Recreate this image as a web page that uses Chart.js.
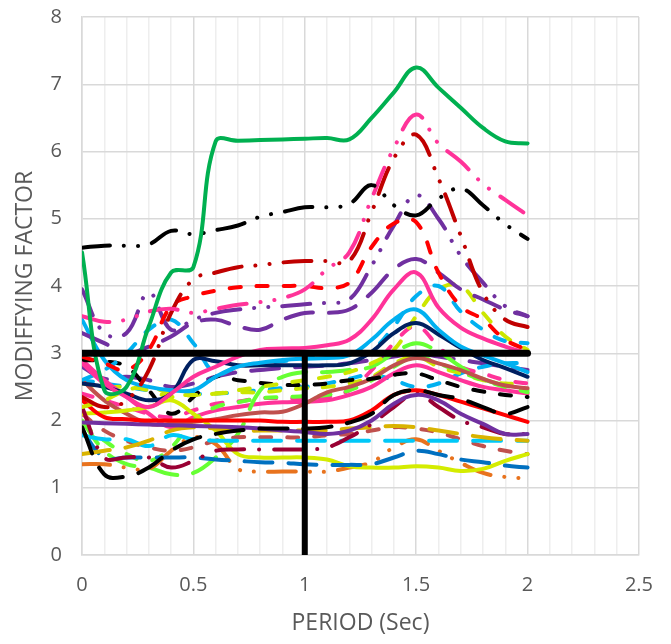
<!DOCTYPE html>
<html>
<head>
<meta charset="utf-8">
<script src="https://cdn.jsdelivr.net/npm/chart.js@4/dist/chart.umd.min.js"></script>
<style>
  body { margin: 0; background: #fff; }
  #wrap { width: 671px; height: 644px; }
</style>
</head>
<body>
<div id="wrap"><canvas id="chartFactor"></canvas></div>
<script>
// periods (sec)
const periods = [0, 0.1, 0.2, 0.3, 0.4, 0.5, 0.6, 0.7, 0.8, 0.9, 1.0, 1.1, 1.2, 1.3, 1.4, 1.5, 1.6, 1.7, 1.8, 1.9, 2.0];

// modifying factor per record
const greenSolid    = [4.5, 2.45, 2.5, 3.4, 4.2, 4.28, 6.15, 6.16, 6.17, 6.18, 6.19, 6.2, 6.18, 6.5, 6.88, 7.25, 6.95, 6.65, 6.35, 6.15, 6.12];
const blackLddd     = [4.57, 4.6, 4.6, 4.62, 4.82, 4.77, 4.83, 4.9, 5.03, 5.1, 5.17, 5.17, 5.22, 5.5, 5.2, 5.05, 5.3, 5.45, 5.2, 4.92, 4.7];
const pinkLddd      = [3.55, 3.47, 3.5, 3.62, 3.66, 3.6, 3.66, 3.72, 3.76, 3.82, 3.95, 4.25, 4.5, 5.3, 6.05, 6.55, 6.12, 5.85, 5.52, 5.28, 5.05];
const darkRedLddd   = [2.35, 2.2, 2.3, 2.75, 3.6, 4.1, 4.2, 4.28, 4.31, 4.35, 4.37, 4.37, 4.37, 5.1, 5.9, 6.25, 5.6, 4.75, 3.9, 3.5, 3.39];
const redDash       = [2.95, 2.85, 2.75, 3.05, 3.7, 3.85, 3.93, 3.98, 4.0, 4.0, 4.0, 3.97, 4.05, 4.58, 4.93, 4.95, 4.2, 3.7, 3.5, 3.2, 3.05];
const purpleLddd    = [3.95, 3.3, 3.3, 3.9, 3.35, 3.5, 3.6, 3.65, 3.68, 3.7, 3.73, 3.75, 3.8, 4.3, 4.9, 5.35, 5.0, 4.45, 4.05, 3.7, 3.55];
const purpleLong    = [3.3, 3.15, 3.0, 3.1, 3.25, 3.45, 3.5, 3.4, 3.35, 3.5, 3.6, 3.6, 3.65, 3.9, 4.25, 4.4, 4.2, 3.95, 3.8, 3.65, 3.55];
const pinkSolid     = [2.85, 2.55, 2.35, 2.2, 2.4, 2.65, 2.8, 2.95, 3.05, 3.07, 3.08, 3.12, 3.2, 3.5, 3.95, 4.2, 3.68, 3.38, 3.22, 3.1, 3.0];
const skySolid      = [3.5, 2.9, 2.6, 2.5, 2.45, 2.45, 2.65, 2.8, 2.86, 2.9, 2.92, 2.93, 2.97, 3.2, 3.5, 3.65, 3.35, 3.1, 2.97, 2.85, 2.72];
const navySolid     = [2.55, 2.5, 2.4, 2.3, 2.4, 2.9, 2.88, 2.82, 2.82, 2.82, 2.82, 2.82, 2.85, 3.02, 3.3, 3.45, 3.28, 3.08, 2.9, 2.78, 2.65];
const skyDash       = [2.6, 2.75, 3.0, 3.35, 3.5, 3.15, 2.7, 2.8, 2.85, 2.88, 2.92, 2.95, 2.98, 3.05, 3.4, 3.85, 4.0, 3.62, 3.35, 3.18, 3.15];
const limeDashHigh  = [2.2, 2.3, 2.45, 2.5, 2.4, 2.38, 2.4, 2.45, 2.5, 2.55, 2.6, 2.65, 2.72, 2.85, 3.05, 3.55, 3.95, 4.0, 3.6, 3.25, 3.05];
const blackDash     = [2.9, 2.88, 2.8, 2.45, 2.1, 2.35, 2.65, 2.6, 2.56, 2.53, 2.53, 2.55, 2.6, 2.62, 2.68, 2.7, 2.6, 2.5, 2.43, 2.38, 2.35];
const blackLong     = [1.9, 1.2, 1.17, 1.3, 1.55, 1.72, 1.8, 1.85, 1.88, 1.88, 1.88, 1.9, 1.97, 2.1, 2.38, 2.45, 2.38, 2.32, 2.2, 2.1, 2.2];
const redSolid      = [2.3, 2.05, 2.02, 2.0, 2.0, 2.0, 2.0, 2.0, 2.0, 1.98, 1.98, 1.98, 2.0, 2.15, 2.38, 2.45, 2.38, 2.28, 2.18, 2.08, 1.98];
const purpleSolid   = [1.97, 1.96, 1.95, 1.94, 1.93, 1.92, 1.91, 1.9, 1.88, 1.85, 1.83, 1.8, 1.85, 2.0, 2.25, 2.38, 2.3, 2.1, 1.95, 1.8, 1.8];
const maroonLdd     = [2.2, 1.45, 1.45, 1.45, 1.3, 1.4, 1.55, 1.57, 1.57, 1.57, 1.57, 1.6, 1.75, 1.95, 2.2, 2.4, 2.2, 2.0, 1.9, 1.8, 1.8];
const goldLong      = [1.5, 1.55, 1.6, 1.7, 1.85, 1.9, 1.88, 1.85, 1.85, 1.85, 1.85, 1.85, 1.88, 1.9, 1.92, 1.9, 1.85, 1.8, 1.75, 1.72, 1.7];
const skyLong       = [1.78, 1.72, 1.72, 1.62, 1.78, 1.72, 1.7, 1.7, 1.7, 1.7, 1.7, 1.7, 1.7, 1.7, 1.7, 1.7, 1.7, 1.7, 1.7, 1.7, 1.7];
const blueLong      = [1.85, 1.45, 1.45, 1.45, 1.45, 1.45, 1.42, 1.4, 1.38, 1.37, 1.35, 1.34, 1.34, 1.35, 1.45, 1.55, 1.5, 1.42, 1.38, 1.33, 1.3];
const limeSolid     = [2.1, 2.12, 2.15, 2.2, 2.3, 2.1, 1.85, 1.5, 1.45, 1.45, 1.45, 1.42, 1.32, 1.3, 1.3, 1.32, 1.3, 1.25, 1.28, 1.4, 1.5];
const orangeLddd    = [1.35, 1.35, 1.3, 1.28, 1.55, 1.75, 1.65, 1.28, 1.24, 1.24, 1.24, 1.24, 1.3, 1.38, 1.6, 1.72, 1.55, 1.37, 1.22, 1.16, 1.14];
const brownDash     = [2.1, 1.85, 1.7, 1.6, 1.55, 1.6, 1.7, 1.75, 1.75, 1.75, 1.75, 1.78, 1.8, 1.85, 1.9, 1.88, 1.82, 1.72, 1.62, 1.55, 1.5];
const brownSolid    = [2.6, 2.3, 2.1, 1.95, 1.95, 1.98, 2.02, 2.08, 2.12, 2.13, 2.25, 2.42, 2.5, 2.62, 2.82, 2.93, 2.85, 2.75, 2.62, 2.52, 2.48];
const greenLong     = [2.0, 1.55, 1.35, 1.3, 1.2, 1.22, 1.45, 1.8, 2.45, 2.65, 2.72, 2.72, 2.75, 2.8, 3.0, 3.15, 3.02, 2.8, 2.62, 2.52, 2.45];
const greenDash     = [1.95, 1.7, 1.5, 1.4, 1.6, 2.0, 2.2, 2.27, 2.33, 2.35, 2.36, 2.38, 2.45, 2.6, 2.8, 2.95, 2.85, 2.72, 2.6, 2.5, 2.42];
const pinkDash      = [2.4, 2.3, 2.2, 2.1, 2.05, 2.15, 2.25, 2.28, 2.33, 2.33, 2.33, 2.35, 2.45, 2.75, 3.15, 3.4, 3.1, 2.8, 2.7, 2.6, 2.55];
const pinkSolidLow  = [2.9, 2.6, 2.35, 2.1, 1.9, 2.05, 2.15, 2.2, 2.25, 2.27, 2.28, 2.3, 2.38, 2.5, 2.7, 2.82, 2.72, 2.6, 2.5, 2.45, 2.4];
const limeDash      = [2.55, 2.5, 2.5, 2.45, 2.35, 2.38, 2.4, 2.42, 2.42, 2.45, 2.48, 2.5, 2.55, 2.65, 2.85, 2.95, 2.8, 2.7, 2.6, 2.55, 2.55];
const skyDashLow    = [2.6, 2.55, 2.5, 2.45, 2.45, 2.4, 2.4, 2.42, 2.45, 2.48, 2.5, 2.55, 2.62, 2.68, 2.6, 2.5, 2.55, 2.7, 2.8, 2.85, 2.85];
const purpleLongLow = [2.8, 2.62, 2.65, 2.6, 2.5, 2.55, 2.65, 2.72, 2.75, 2.78, 2.8, 2.82, 2.85, 2.9, 2.95, 3.0, 2.95, 2.9, 2.85, 2.8, 2.75];

// limit lines
const limitFactor = 3;
const limitPeriod = 1;
const limitPeriodRange = [0, 2];
const limitFactorRange = [0, 3];

// tick labels
const xTickLabels = ['0', '0.5', '1', '1.5', '2', '2.5'];

const SOLID = [];
const DASH = [11, 16];
const LONG = [28, 16];
const LDD = [28, 15, 0.1, 15];
const LDDD = [28, 14, 0.1, 14, 0.1, 14];

const lines = [
    [greenSolid, '#00B050', SOLID],
    [blackLddd, '#000000', LDDD],
    [pinkLddd, '#FF3399', LDDD],
    [darkRedLddd, '#C00000', LDDD],
    [redDash, '#FF0000', DASH],
    [purpleLddd, '#7030A0', LDDD],
    [purpleLong, '#7030A0', LONG],
    [pinkSolid, '#FF3399', SOLID],
    [skySolid, '#00B0F0', SOLID],
    [navySolid, '#002060', SOLID],
    [skyDash, '#00B0F0', DASH],
    [limeDashHigh, '#CCE600', DASH],
    [blackDash, '#000000', DASH],
    [blackLong, '#000000', LONG],
    [redSolid, '#FF0000', SOLID],
    [purpleSolid, '#7030A0', SOLID],
    [maroonLdd, '#990033', LDD],
    [goldLong, '#D9B300', LONG],
    [skyLong, '#00C8F8', LONG],
    [blueLong, '#0070C0', LONG],
    [limeSolid, '#D4EC00', SOLID],
    [orangeLddd, '#E8731E', LDDD],
    [brownDash, '#C0504D', DASH],
    [brownSolid, '#C0504D', SOLID],
    [greenLong, '#66FF33', LONG],
    [greenDash, '#66FF33', DASH],
    [pinkDash, '#FF3399', DASH],
    [pinkSolidLow, '#FF3399', SOLID],
    [limeDash, '#CCE600', DASH],
    [skyDashLow, '#00B0F0', DASH],
    [purpleLongLow, '#7030A0', LONG]
];

let datasets = [];

// thick limit lines drawn on top
datasets.push({
    data: limitPeriodRange.map(p => ({x: p, y: limitFactor})),
    borderColor: '#000', borderWidth: 7, borderCapStyle: 'round', pointRadius: 0, tension: 0
});
datasets.push({
    data: limitFactorRange.map(v => ({x: limitPeriod, y: v})),
    borderColor: '#000', borderWidth: 6, borderCapStyle: 'butt', pointRadius: 0, tension: 0
});

lines.forEach(([vals, color, dash]) => {
    datasets.push({
        data: vals.map((v, i) => ({x: periods[i], y: v})),
        borderColor: color,
        borderWidth: 4,
        borderDash: dash,
        borderCapStyle: 'round',
        borderJoinStyle: 'round',
        pointRadius: 0,
        tension: 0.4
    });
});

const tickFont = {family: 'Open Sans', size: 20};
const titleFont = {family: 'Open Sans', size: 23};
const isHalf = v => Math.abs(v * 2 - Math.round(v * 2)) < 1e-6;

let ctx = document.getElementById('chartFactor').getContext('2d');
let chartFactor = new Chart(ctx, {
    type: 'line',
    data: {datasets: datasets},
    options: {
        responsive: true,
        maintainAspectRatio: false,
        animation: false,
        layout: {padding: {top: 17, right: 30, left: 0, bottom: 0}},
        plugins: {legend: {display: false}, tooltip: {enabled: false}},
        scales: {
            x: {
                type: 'linear', min: 0, max: 2.5,
                afterFit: s => { s.height = 89; },
                ticks: {
                    stepSize: 0.1, autoSkip: false, maxRotation: 0, padding: 18,
                    color: '#595959', font: tickFont,
                    callback: v => isHalf(v) ? xTickLabels[Math.round(v * 2)] : ''
                },
                grid: {
                    drawTicks: false, lineWidth: 1.5,
                    color: c => isHalf(c.tick.value) ? '#D9D9D9' : '#EEEEEE'
                },
                border: {color: '#D9D9D9', width: 1.5},
                title: {
                    display: true, text: 'PERIOD (Sec)', color: '#595959',
                    font: titleFont, padding: {top: 0, bottom: 7}
                }
            },
            y: {
                min: 0, max: 8,
                afterFit: s => { s.width = 82; s.paddingTop = 0; s.paddingBottom = 0; },
                ticks: {stepSize: 1, padding: 20, color: '#595959', font: tickFont},
                grid: {drawTicks: false, color: '#D9D9D9', lineWidth: 1.5},
                border: {color: '#D9D9D9', width: 1.5},
                title: {
                    display: true, text: 'MODIFFYING FACTOR', color: '#595959',
                    font: titleFont, padding: {top: 12, bottom: 0}
                }
            }
        }
    }
});
</script>
</body>
</html>
